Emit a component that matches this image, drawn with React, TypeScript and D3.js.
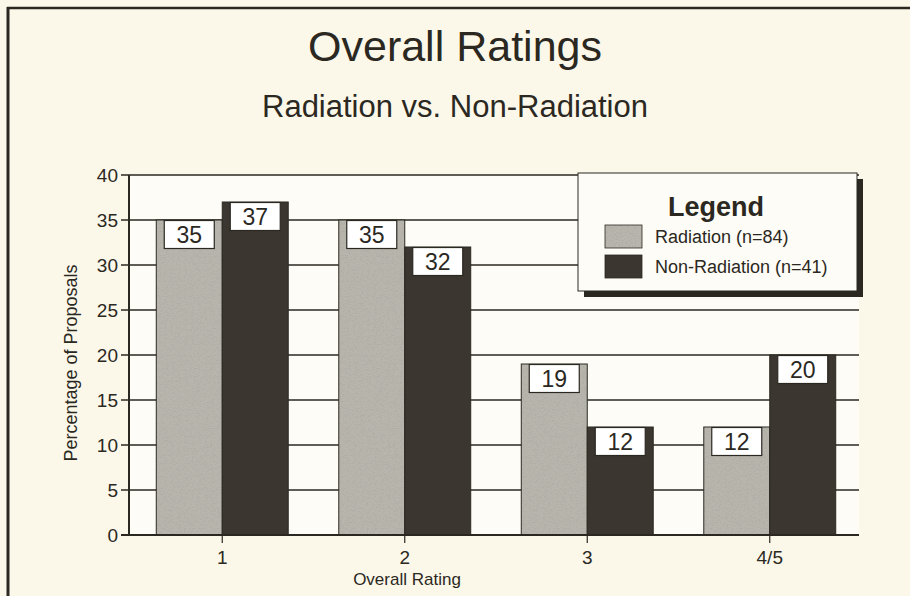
import { scaleBand, scaleLinear } from "d3";

const categories = ["1", "2", "3", "4/5"];
const seriesNames = ["Radiation (n=84)", "Non-Radiation (n=41)"];
const radiation = [35, 35, 19, 12];
const nonRadiation = [37, 32, 12, 20];
const yTickValues = [0, 5, 10, 15, 20, 25, 30, 35, 40];

const W = 910;
const H = 596;
const FONT = "'Liberation Sans', Arial, Helvetica, sans-serif";
const INK = "#2b2822";
const BG = "#fbf8ea";
const LIGHT = "#b8b5ac";
const DARK = "#3b362f";

export default function App() {
  const x0 = scaleBand<string>()
    .domain(categories)
    .range([131, 861])
    .paddingInner(0.277)
    .paddingOuter(0.1385);
  const x1 = scaleBand<string>()
    .domain(seriesNames)
    .range([0, x0.bandwidth()]);
  const y = scaleLinear().domain([0, 40]).range([535, 175]);

  const plotLeft = 129;
  const plotRight = 859;
  const values = [radiation, nonRadiation];
  const fills = ["url(#stipple)", DARK];

  return (
    <svg
      width={W}
      height={H}
      style={{ position: "absolute", left: 0, top: 0, background: BG }}
      fontFamily={FONT}
    >
      <defs>
        <filter id="grain" x="0" y="0" width="100%" height="100%">
          <feTurbulence type="fractalNoise" baseFrequency="0.85" numOctaves="2" seed="3" result="n" />
          <feColorMatrix
            in="n"
            type="matrix"
            values="0 0 0 0 0.42  0 0 0 0 0.41  0 0 0 0 0.38  6 0 0 0 -3.1"
            result="dots"
          />
          <feComposite in="dots" in2="SourceGraphic" operator="in" result="d2" />
          <feMerge>
            <feMergeNode in="SourceGraphic" />
            <feMergeNode in="d2" />
          </feMerge>
        </filter>
        <pattern id="stipple" width="910" height="596" patternUnits="userSpaceOnUse">
          <rect width="910" height="596" fill={LIGHT} filter="url(#grain)" />
        </pattern>
      </defs>

      {/* frame */}
      <line x1={7} y1={8} x2={W} y2={8} stroke={INK} strokeWidth={2.5} />
      <line x1={8} y1={7} x2={8} y2={H} stroke={INK} strokeWidth={3} />

      {/* titles */}
      <text x={455} y={61} textAnchor="middle" fontSize={43} fill={INK}>
        Overall Ratings
      </text>
      <text x={455} y={117} textAnchor="middle" fontSize={31} fill={INK}>
        Radiation vs. Non-Radiation
      </text>

      {/* plot area */}
      <rect x={plotLeft} y={y(40)} width={plotRight - plotLeft} height={y(0) - y(40)} fill="#fdfcf6" />

      {/* grid + y ticks */}
      {yTickValues.map((t) => (
        <g key={t}>
          <line x1={plotLeft - 8} x2={plotRight} y1={y(t)} y2={y(t)} stroke={INK} strokeWidth={1.4} />
          <text x={plotLeft - 11} y={y(t)} dy="0.36em" textAnchor="end" fontSize={19} fill={INK}>
            {t}
          </text>
        </g>
      ))}

      {/* bars */}
      {categories.map((c, i) => (
        <g key={c} transform={`translate(${x0(c)},0)`}>
          {seriesNames.map((s, j) => (
            <rect
              key={s}
              x={x1(s)}
              y={y(values[j][i])}
              width={x1.bandwidth()}
              height={y(0) - y(values[j][i])}
              fill={fills[j]}
              stroke={INK}
              strokeWidth={1}
            />
          ))}
        </g>
      ))}

      {/* value labels */}
      {categories.map((c, i) => (
        <g key={c} transform={`translate(${x0(c)},0)`}>
          {seriesNames.map((s, j) => {
            const cx = (x1(s) ?? 0) + x1.bandwidth() / 2;
            const top = y(values[j][i]);
            return (
              <g key={s}>
                <rect x={cx - 25} y={top + 0.5} width={50} height={28} fill="#ffffff" stroke={INK} strokeWidth={1.2} />
                <text x={cx} y={top + 23} textAnchor="middle" fontSize={23} fill={INK}>
                  {values[j][i]}
                </text>
              </g>
            );
          })}
        </g>
      ))}

      {/* axes */}
      <line x1={plotLeft} x2={plotLeft} y1={y(40)} y2={y(0) + 1} stroke={INK} strokeWidth={2} />
      <line x1={plotLeft - 8} x2={plotRight} y1={y(0)} y2={y(0)} stroke={INK} strokeWidth={2.2} />
      {categories.map((c) => {
        const cx = (x0(c) ?? 0) + x0.bandwidth() / 2;
        return (
          <g key={c}>
            <line x1={cx} x2={cx} y1={y(0)} y2={y(0) + 8} stroke={INK} strokeWidth={1.2} />
            <text x={cx} y={564} textAnchor="middle" fontSize={19} fill={INK}>
              {c}
            </text>
          </g>
        );
      })}

      {/* axis titles */}
      <text x={407} y={585} textAnchor="middle" fontSize={17} fill={INK}>
        Overall Rating
      </text>
      <text
        transform={`translate(77,${y(20) + 8}) rotate(-90)`}
        textAnchor="middle"
        fontSize={18}
        fill={INK}
      >
        Percentage of Proposals
      </text>

      {/* legend */}
      <rect x={584} y={179} width={279} height={118} fill={INK} />
      <rect x={578} y={173} width={279} height={118} fill="#fdfcf6" stroke={INK} strokeWidth={1} />
      <text x={716} y={216} textAnchor="middle" fontSize={27} fontWeight="bold" fill={INK}>
        Legend
      </text>
      {seriesNames.map((s, j) => (
        <g key={s} transform={`translate(605,${225 + j * 30})`}>
          <rect width={37} height={23} fill={fills[j]} stroke={INK} strokeWidth={0.8} />
          <text x={50} y={18} fontSize={18} fill={INK}>
            {s}
          </text>
        </g>
      ))}
    </svg>
  );
}
